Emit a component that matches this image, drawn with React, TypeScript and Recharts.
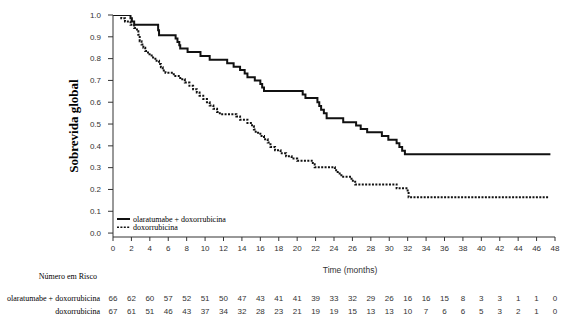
import { LineChart, Line, XAxis, YAxis, Legend, Customized } from "recharts"

const serif = "'Liberation Serif', 'Times New Roman', serif"
const sans = "'Liberation Sans', Arial, sans-serif"

const seriesNames = ["olaratumabe + doxorrubicina", "doxorrubicina"]
const months = [0, 2, 4, 6, 8, 10, 12, 14, 16, 18, 20, 22, 24, 26, 28, 30, 32, 34, 36, 38, 40, 42, 44, 46, 48]
const yTicks = [0, 0.1, 0.2, 0.3, 0.4, 0.5, 0.6, 0.7, 0.8, 0.9, 1.0]

// olaratumabe + doxorrubicina (step points)
const comboTime = [0, 1.9, 2.05, 2.3, 4.9, 5.0, 6.8, 7.0, 7.2, 7.3, 8.1, 9.5, 10.5, 12.4, 13.1, 13.8, 14.3, 14.6, 15.4, 16.0, 16.2, 16.4, 20.6, 20.9, 22.2, 22.4, 22.6, 22.9, 23.2, 25.0, 26.4, 26.9, 27.6, 29.2, 29.9, 30.8, 31.1, 31.4, 31.7, 47.5]
const comboSurv = [1.0, 0.985, 0.97, 0.955, 0.93, 0.907, 0.892, 0.876, 0.861, 0.846, 0.83, 0.812, 0.795, 0.779, 0.763, 0.748, 0.732, 0.715, 0.7, 0.684, 0.668, 0.652, 0.635, 0.619, 0.6, 0.583, 0.566, 0.55, 0.527, 0.508, 0.493, 0.477, 0.462, 0.445, 0.428, 0.412, 0.395, 0.378, 0.362, 0.362]

// doxorrubicina (step points)
const doxoTime = [0, 0.9, 1.3, 1.9, 2.3, 2.6, 2.75, 2.9, 3.1, 3.3, 3.5, 3.8, 4.2, 4.6, 5.0, 5.2, 5.4, 5.7, 6.6, 7.3, 7.8, 8.3, 8.7, 9.1, 9.4, 9.8, 10.2, 10.5, 10.9, 11.3, 11.6, 13.4, 13.8, 14.6, 15.1, 15.3, 15.5, 16.0, 16.4, 16.8, 17.1, 17.6, 18.2, 18.8, 19.4, 20.0, 21.7, 21.9, 24.1, 24.4, 24.8, 25.9, 26.3, 30.8, 32.0, 32.1, 47.3]
const doxoSurv = [1.0, 0.985, 0.97, 0.955, 0.94, 0.925, 0.91, 0.88, 0.865, 0.85, 0.835, 0.82, 0.805, 0.79, 0.775, 0.76, 0.745, 0.735, 0.72, 0.705, 0.69, 0.675, 0.66, 0.645, 0.63, 0.615, 0.6, 0.585, 0.57, 0.555, 0.545, 0.535, 0.52, 0.505, 0.49, 0.475, 0.46, 0.445, 0.43, 0.415, 0.395, 0.38, 0.366, 0.352, 0.342, 0.332, 0.316, 0.302, 0.288, 0.273, 0.258, 0.24, 0.223, 0.205, 0.19, 0.164, 0.164]

const riskCombo = [66, 62, 60, 57, 52, 51, 50, 47, 43, 41, 41, 39, 33, 32, 29, 26, 16, 16, 15, 8, 3, 3, 1, 1, 0]
const riskDoxo = [67, 61, 51, 46, 43, 37, 34, 32, 28, 23, 21, 19, 19, 15, 13, 13, 10, 7, 6, 6, 5, 3, 2, 1, 0]

const comboData = comboTime.map((t, i) => ({ t, s: comboSurv[i] }))
const doxoData = doxoTime.map((t, i) => ({ t, s: doxoSurv[i] }))

const tickStyle = { fontSize: 8, fill: "#333", fontFamily: sans }

function LegendContent({ payload }: any) {
  // keep the series order, not alphabetical
  const items = [...(payload || [])].sort(
    (a: any, b: any) => seriesNames.indexOf(a.value) - seriesNames.indexOf(b.value)
  )
  return (
    <svg width={130} height={items.length * 8.3 + 2} style={{ display: "block" }}>
      {items.map((p: any, i: number) => {
        const y = 4 + i * 8.3
        const dashed = p.payload?.strokeDasharray
        return (
          <g key={p.value}>
            <line
              x1={1}
              x2={14}
              y1={y}
              y2={y}
              stroke="#111"
              strokeWidth={dashed ? 1.4 : 2}
              strokeDasharray={dashed}
            />
            <text x={17} y={y + 2.8} fontFamily={serif} fontSize={8} fill="#000">
              {p.value}
            </text>
          </g>
        )
      })}
    </svg>
  )
}

function ExtraText() {
  return (
    <g>
      <text x={350} y={273} textAnchor="middle" fontFamily={sans} fontSize={8.5} fill="#333">
        Time (months)
      </text>
      <text x={97} y={279} textAnchor="end" fontFamily={serif} fontSize={8} fill="#000">
        Número em Risco
      </text>
      <text x={100} y={301} textAnchor="end" fontFamily={serif} fontSize={8} fill="#000">
        {seriesNames[0]}
      </text>
      <text x={100} y={314} textAnchor="end" fontFamily={serif} fontSize={8} fill="#000">
        {seriesNames[1]}
      </text>
    </g>
  )
}

export default function App() {
  return (
    <div style={{ position: "absolute", left: 0, top: 0, width: 568, height: 328, background: "#fff" }}>
      <LineChart width={568} height={328} margin={{ top: 15, right: 13, left: 53, bottom: 13 }}>
        <XAxis
          dataKey="t"
          type="number"
          domain={[0, 48]}
          ticks={months}
          interval={0}
          height={52}
          tickSize={4}
          tickMargin={4}
          stroke="#333"
          tick={tickStyle}
          allowDataOverflow
        />
        <XAxis
          xAxisId="r1"
          dataKey="t"
          type="number"
          domain={[0, 48]}
          ticks={months}
          interval={0}
          height={13}
          axisLine={false}
          tickLine={false}
          tickSize={0}
          tickMargin={6}
          tick={tickStyle}
          tickFormatter={(v: number) => String(riskCombo[months.indexOf(v)])}
          allowDataOverflow
        />
        <XAxis
          xAxisId="r2"
          dataKey="t"
          type="number"
          domain={[0, 48]}
          ticks={months}
          interval={0}
          height={13}
          axisLine={false}
          tickLine={false}
          tickSize={0}
          tickMargin={6}
          tick={tickStyle}
          tickFormatter={(v: number) => String(riskDoxo[months.indexOf(v)])}
          allowDataOverflow
        />
        <YAxis
          type="number"
          domain={[-0.018, 1]}
          ticks={yTicks}
          interval={0}
          width={60}
          tickSize={5}
          tickMargin={7}
          stroke="#333"
          tick={tickStyle}
          tickFormatter={(v: number) => v.toFixed(1)}
          allowDataOverflow
          label={{
            value: "Sobrevida global",
            angle: -90,
            position: "insideLeft",
            offset: 20,
            style: { textAnchor: "middle", fontFamily: serif, fontSize: 13, fontWeight: "bold", fill: "#000" },
          }}
        />
        <Legend
          layout="horizontal"
          align="center"
          verticalAlign="middle"
          content={<LegendContent />}
          wrapperStyle={{ left: 116, top: 215, width: "auto" }}
        />
        <Line
          data={comboData}
          dataKey="s"
          name={seriesNames[0]}
          type="stepAfter"
          stroke="#111"
          strokeWidth={2}
          dot={false}
          activeDot={false}
          isAnimationActive={false}
        />
        <Line
          data={doxoData}
          dataKey="s"
          name={seriesNames[1]}
          type="stepAfter"
          stroke="#111"
          strokeWidth={2}
          strokeDasharray="2 1.4"
          dot={false}
          activeDot={false}
          isAnimationActive={false}
        />
        <Customized component={<ExtraText />} />
      </LineChart>
    </div>
  )
}
